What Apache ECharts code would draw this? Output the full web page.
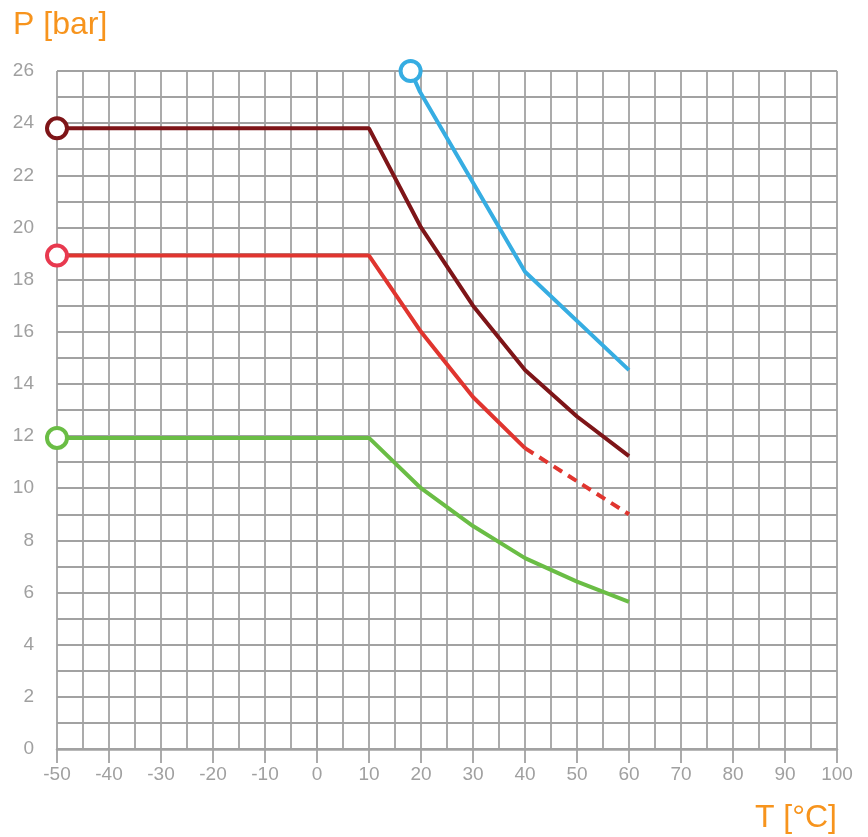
<!DOCTYPE html>
<html>
<head>
<meta charset="utf-8">
<script src="https://cdn.jsdelivr.net/npm/echarts@6/dist/echarts.min.js"></script>
<style>
html,body{margin:0;padding:0;background:#fff;}
#chart{width:868px;height:837px;}
</style>
</head>
<body>
<div id="chart"></div>
<script>
// Data
var xTicks = [-50, -40, -30, -20, -10, 0, 10, 20, 30, 40, 50, 60, 70, 80, 90, 100];
var yTicks = [0, 2, 4, 6, 8, 10, 12, 14, 16, 18, 20, 22, 24, 26];
var brownLine = [[-50, 23.8], [10, 23.8], [20, 20.0], [30, 17.0], [40, 14.53], [50, 12.75], [60, 11.23]];
var redLine = [[-50, 18.92], [10, 18.92], [20, 16.0], [30, 13.5], [40, 11.54]];
var redDashed = [[40, 11.54], [60, 9.0]];
var greenLine = [[-50, 11.93], [10, 11.93], [20, 10.0], [30, 8.55], [40, 7.32], [50, 6.42], [60, 5.64]];
var blueLine = [[18, 26.0], [19.8, 25.2], [40, 18.3], [60, 14.53]];

var cBrown = '#7e1518', cRed = '#e0352f', cRedMark = '#e8394f', cGreen = '#6abd45', cBlue = '#36ade2';
var gridColor = '#a2a2a2', labelColor = '#a0a0a0', titleColor = '#f7941d';

function lineSeries(data, color, dashed) {
  return {
    type: 'line', data: data, symbol: 'none', smooth: false, z: 3,
    lineStyle: { color: color, width: 4, type: dashed ? [10, 7] : 'solid', cap: 'butt' },
    animation: false
  };
}
function markSeries(pt, color) {
  return {
    type: 'scatter', data: [pt], symbol: 'circle', symbolSize: 20, z: 5,
    itemStyle: { color: '#ffffff', borderColor: color, borderWidth: 4, opacity: 1 },
    animation: false, silent: true
  };
}

var chart = echarts.init(document.getElementById('chart'), null, { renderer: 'canvas' });
chart.setOption({
  animation: false,
  grid: { left: 57, right: 31, top: 71, bottom: 88, containLabel: false },
  xAxis: {
    type: 'value', min: xTicks[0], max: xTicks[xTicks.length - 1], interval: 10,
    axisLine: { show: true, lineStyle: { color: gridColor, width: 2.5 } },
    axisTick: { show: true, length: 14, lineStyle: { color: gridColor, width: 1.8 } },
    axisLabel: { color: labelColor, fontSize: 19, fontFamily: 'Liberation Sans, Arial, sans-serif', margin: 16 },
    splitLine: { show: true, lineStyle: { color: gridColor, width: 1.8 } },
    minorTick: { show: false, splitNumber: 2 },
    minorSplitLine: { show: true, lineStyle: { color: gridColor, width: 1.8 } }
  },
  yAxis: {
    type: 'value', min: yTicks[0], max: yTicks[yTicks.length - 1], interval: 2,
    axisLine: { show: true, lineStyle: { color: gridColor, width: 1.8 } },
    axisTick: { show: true, length: 14, lineStyle: { color: gridColor, width: 1.8 } },
    axisLabel: { color: labelColor, fontSize: 19, fontFamily: 'Liberation Sans, Arial, sans-serif', margin: 23 },
    splitLine: { show: true, lineStyle: { color: gridColor, width: 1.8 } },
    minorTick: { show: false, splitNumber: 2 },
    minorSplitLine: { show: true, lineStyle: { color: gridColor, width: 1.8 } }
  },
  graphic: [
    { type: 'text', left: 13, top: 9, style: { text: 'P [bar]', fill: titleColor, font: '32px "Liberation Sans", Arial, sans-serif' } },
    { type: 'text', right: 31, top: 802, style: { text: 'T [°C]', fill: titleColor, font: '32px "Liberation Sans", Arial, sans-serif' } }
  ],
  series: [
    lineSeries(greenLine, cGreen),
    lineSeries(redLine, cRed),
    lineSeries(redDashed, cRed, true),
    lineSeries(brownLine, cBrown),
    lineSeries(blueLine, cBlue),
    markSeries(greenLine[0], cGreen),
    markSeries(redLine[0], cRedMark),
    markSeries(brownLine[0], cBrown),
    markSeries(blueLine[0], cBlue)
  ]
});
</script>
</body>
</html>
